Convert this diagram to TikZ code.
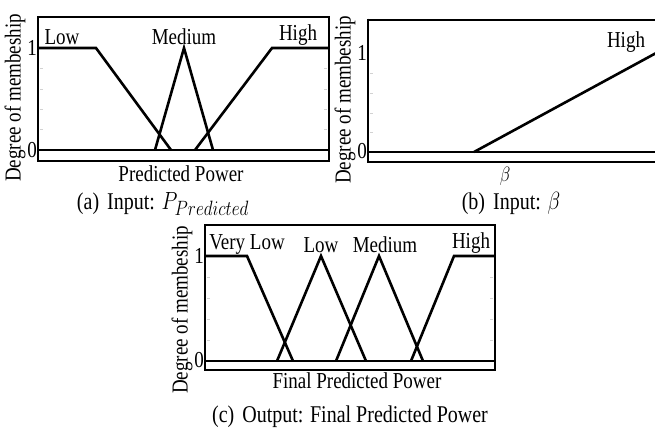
\documentclass[tikz,border=0pt]{standalone}
\usepackage{fontspec}
\setmainfont{Liberation Serif}
% slightly tall lettering
\newcommand\talltxt[1]{\scalebox{1}[1.2]{#1}}
% subscript set a little larger than the default script size
\newcommand\bigsub[1]{\hbox{\fontsize{16.5}{18}\selectfont$#1$}}
\begin{document}
\begin{tikzpicture}[x=1pt,y=-1pt,
  plotframe/.style={line width=2.6pt},
  mfline/.style={line width=2.6pt, line join=miter},
  lbl/.style={font=\fontsize{19}{22}\selectfont, inner sep=0pt},
  captiontxt/.style={font=\fontsize{20}{24}\selectfont, inner sep=0pt},
  gridtick/.style={gray!35, line width=0.6pt}]
\useasboundingbox (0,0) rectangle (655,428);

% ---------- (a) Input: P_Predicted ----------
\draw[plotframe] (38,17) rectangle (329,161);
\foreach \yy in {129.6,109.2,88.8,68.4} {
  \draw[gridtick] (40,\yy) -- (43,\yy);
  \draw[gridtick] (324,\yy) -- (327,\yy);
}
\draw[plotframe] (38,150) -- (329,150);
\draw[mfline] (38,48) -- (96,48) -- (171,150);
\draw[mfline] (155,150) -- (184,48) -- (213,150);
\draw[mfline] (195,150) -- (272,48) -- (329,48);
\node[lbl] (aLow) at (62,37) {\talltxt{Low}};
\node[lbl] (aMed) at (184,37) {\talltxt{Medium}};
\node[lbl] (aHigh) at (298,35) {\talltxt{High}};
\node[lbl, anchor=east] (aOne) at (37,48) {\talltxt{1}};
\node[lbl, anchor=east] (aZero) at (37,150) {\talltxt{0}};
\node[lbl, rotate=90] (aY) at (15,98) {\talltxt{Degree of membeship}};
\node[lbl] (aX) at (181,174) {\talltxt{Predicted Power}};
\node[captiontxt] (aCap) at (163,204) {\talltxt{(a)\hspace{0.4em}Input: $P_{\bigsub{Predicted}}$}};

% ---------- (b) Input: beta ----------
\draw[plotframe] (368,20) -- (658,20);
\draw[plotframe] (368,18.7) -- (368,162) -- (658,162);
\foreach \yy in {132.4,112.8,93.2,73.6} {
  \draw[gridtick] (370,\yy) -- (373,\yy);
}
\draw[plotframe] (368,152) -- (658,152);
\draw[mfline] (474,152) -- (658,52);
\node[lbl] (bHigh) at (626,42) {\talltxt{High}};
\node[lbl, anchor=east] (bOne) at (367,53) {\talltxt{1}};
\node[lbl, anchor=east] (bZero) at (367,151) {\talltxt{0}};
\node[lbl, rotate=90] (bY) at (345,100) {\talltxt{Degree of membeship}};
\node[lbl] (bX) at (505,176) {\talltxt{$\beta$}};
\node[captiontxt] (bCap) at (511,203) {\talltxt{(b)\hspace{0.4em}Input: $\beta$}};

% ---------- (c) Output: Final Predicted Power ----------
\draw[plotframe] (205,225) rectangle (495,370);
\foreach \yy in {340,319,298,277} {
  \draw[gridtick] (207,\yy) -- (210,\yy);
  \draw[gridtick] (490,\yy) -- (493,\yy);
}
\draw[plotframe] (205,361) -- (495,361);
\draw[mfline] (205,256) -- (247,256) -- (293,361);
\draw[mfline] (277,361) -- (321,256) -- (366,361);
\draw[mfline] (336,361) -- (379,256) -- (423,361);
\draw[mfline] (411,361) -- (454,256) -- (495,256);
\node[lbl] (cVLow) at (247,244) {\talltxt{Very Low}};
\node[lbl] (cLow) at (321,245) {\talltxt{Low}};
\node[lbl] (cMed) at (385,245) {\talltxt{Medium}};
\node[lbl] (cHigh) at (471,243) {\talltxt{High}};
\node[lbl, anchor=east] (cOne) at (204,256) {\talltxt{1}};
\node[lbl, anchor=east] (cZero) at (204,360) {\talltxt{0}};
\node[lbl, rotate=90] (cY) at (182,310) {\talltxt{Degree of membeship}};
\node[lbl] (cX) at (357,381) {\talltxt{Final Predicted Power}};
\node[captiontxt] (cCap) at (350,417) {\talltxt{(c)\hspace{0.4em}Output: Final Predicted Power}};
\end{tikzpicture}
\end{document}
